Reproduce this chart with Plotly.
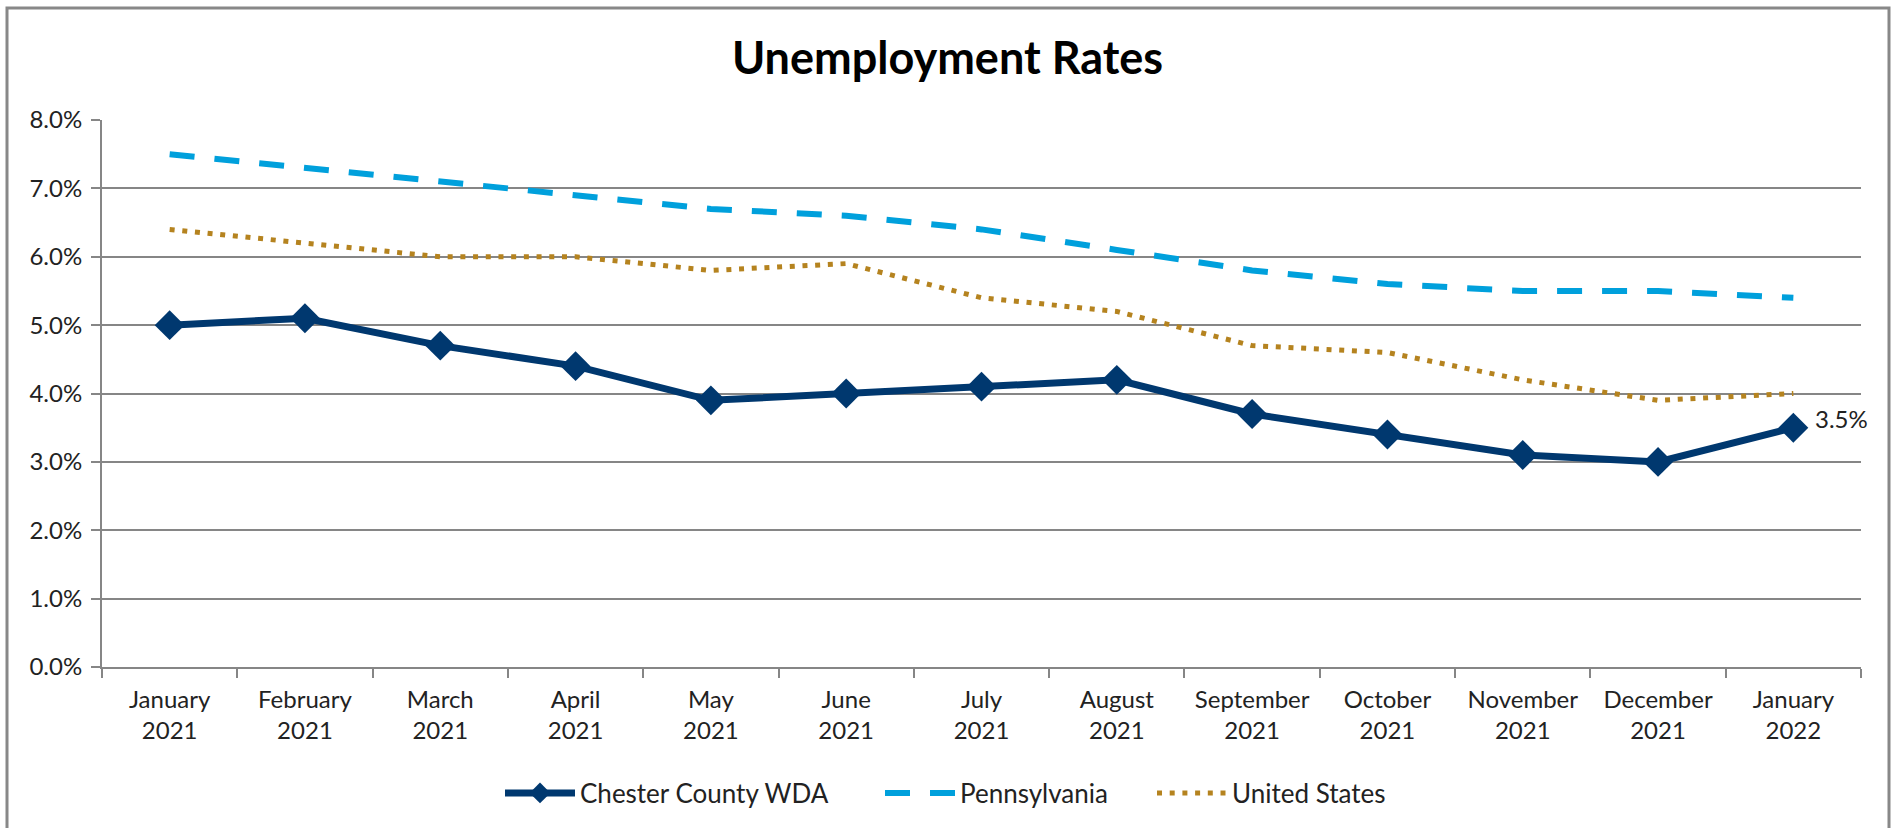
import plotly.graph_objects as go

# Monthly unemployment rates (%)
months = ["January<br>2021", "February<br>2021", "March<br>2021", "April<br>2021",
          "May<br>2021", "June<br>2021", "July<br>2021", "August<br>2021",
          "September<br>2021", "October<br>2021", "November<br>2021",
          "December<br>2021", "January<br>2022"]
chester = [5.0, 5.1, 4.7, 4.4, 3.9, 4.0, 4.1, 4.2, 3.7, 3.4, 3.1, 3.0, 3.5]
pennsylvania = [7.5, 7.3, 7.1, 6.9, 6.7, 6.6, 6.4, 6.1, 5.8, 5.6, 5.5, 5.5, 5.4]
united_states = [6.4, 6.2, 6.0, 6.0, 5.8, 5.9, 5.4, 5.2, 4.7, 4.6, 4.2, 3.9, 4.0]
y_ticks = [0, 1, 2, 3, 4, 5, 6, 7, 8]
y_tick_labels = [f"{v:.1f}%" for v in y_ticks]

W, H = 1895, 828
ML, MR, MT, MB = 102, 34, 120, 161
PW, PH = W - ML - MR, H - MT - MB

FONT = "Lato, 'Open Sans', sans-serif"
GRID = "#868686"
NAVY = "#00386F"
SKY = "#00A0DC"
GOLD = "#B5831F"
TEXT = "#222222"


def px_x(p):
    return (p - ML) / PW


def px_y(p):
    return (H - MB - p) / PH


fig = go.Figure()
fig.add_trace(go.Scatter(
    x=months, y=chester, name="Chester County WDA", mode="lines+markers",
    line=dict(color=NAVY, width=7),
    marker=dict(symbol="diamond", size=23, color=NAVY),
    legend="legend",
))
fig.add_trace(go.Scatter(
    x=months, y=pennsylvania, name="Pennsylvania", mode="lines",
    line=dict(color=SKY, width=6, dash="25px,20px"),
    legend="legend2",
))
fig.add_trace(go.Scatter(
    x=months, y=united_states, name="United States", mode="lines",
    line=dict(color=GOLD, width=5, dash="5px,7.7px"),
    legend="legend3",
))

# value label on the latest county point
fig.add_annotation(
    x=months[-1], y=chester[-1], text=f"{chester[-1]:.1f}%",
    showarrow=False, xanchor="left", yanchor="middle",
    xshift=20, yshift=9, font=dict(family=FONT, size=24, color=TEXT),
)

# outer chart frame
fig.add_shape(
    type="rect", xref="paper", yref="paper",
    x0=px_x(7), x1=px_x(1889), y0=px_y(900), y1=px_y(8),
    line=dict(color="#888888", width=3), layer="below",
)


def legend_box(left_px):
    return dict(
        orientation="h", x=px_x(left_px), xref="paper", xanchor="left",
        y=px_y(793), yref="paper", yanchor="middle",
        font=dict(family=FONT, size=26, color=TEXT),
        itemwidth=70, bgcolor="rgba(0,0,0,0)",
    )


fig.update_layout(
    width=W, height=H, autosize=False,
    margin=dict(l=ML, r=MR, t=MT, b=MB, autoexpand=False),
    paper_bgcolor="white", plot_bgcolor="white",
    font=dict(family=FONT, size=24, color=TEXT),
    title=dict(
        text="<b>Unemployment Rates</b>", x=0.5, xref="container",
        y=1 - 58 / H, yref="container", xanchor="center", yanchor="middle",
        font=dict(family=FONT, size=45, color="black"),
    ),
    showlegend=True,
    legend=legend_box(500),
    legend2=legend_box(880),
    legend3=legend_box(1152),
    xaxis=dict(
        type="category", tickson="boundaries", ticks="outside", ticklen=9,
        tickcolor=GRID, tickwidth=2, showline=True, linecolor=GRID,
        linewidth=2, showgrid=False, range=[-0.5, len(months) - 0.5],
        tickangle=0, ticklabelstandoff=10,
        tickfont=dict(family=FONT, size=24, color=TEXT),
    ),
    yaxis=dict(
        range=[0, 8], tickmode="array", tickvals=y_ticks,
        ticktext=y_tick_labels, ticklabelstandoff=4,
        ticks="outside", ticklen=9, tickcolor=GRID, tickwidth=2,
        showline=True, linecolor=GRID, linewidth=2,
        showgrid=True, gridcolor=GRID, gridwidth=2, zeroline=False,
        tickfont=dict(family=FONT, size=24, color=TEXT),
    ),
)

fig.write_html("out.html")
